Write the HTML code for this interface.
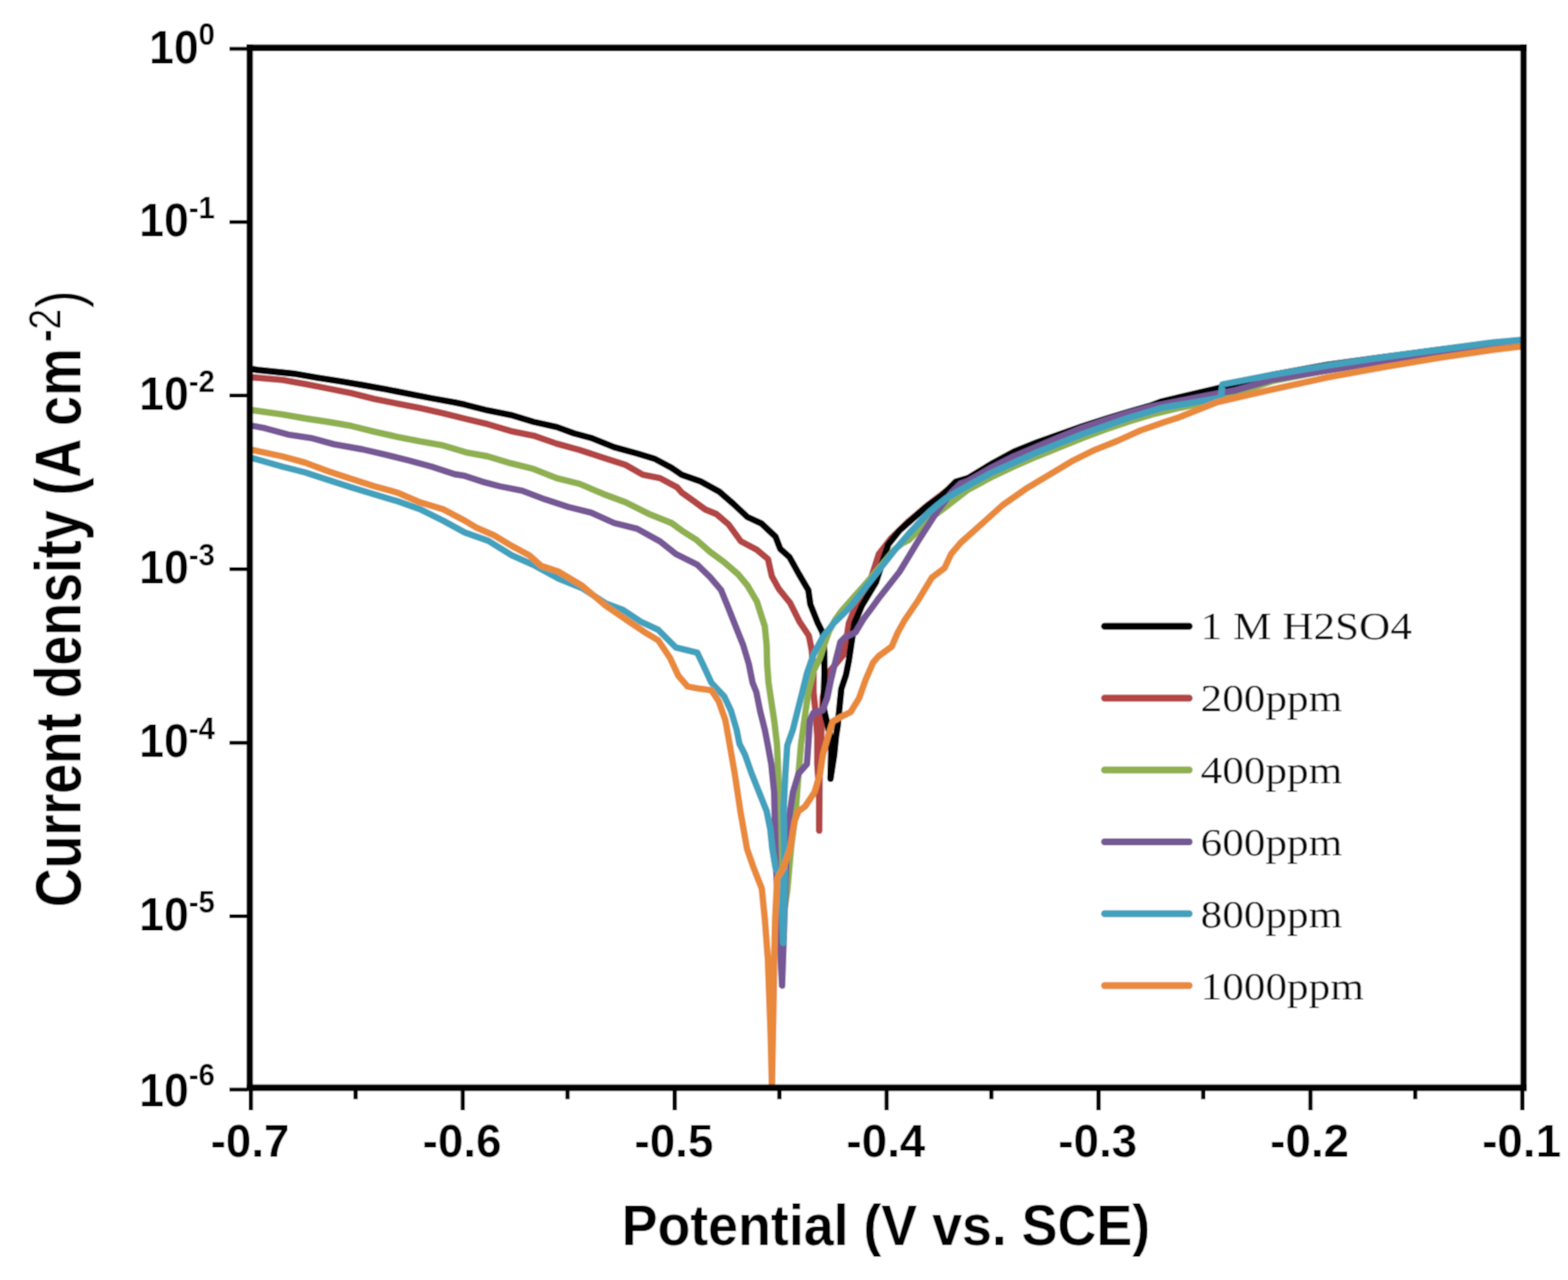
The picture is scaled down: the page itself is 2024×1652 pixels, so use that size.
<!DOCTYPE html><html><head><meta charset="utf-8"><title>Tafel plot</title><style>html,body{margin:0;padding:0;background:#fff;overflow:hidden;}svg{display:block;}.ax{font-family:"Liberation Sans",Arial,sans-serif;font-weight:bold;fill:#000;}.lg{font-family:"Liberation Serif","Times New Roman",serif;fill:#111;}</style></head><body>
<svg width="2024" height="1652" viewBox="0 0 2024 1652">
<defs><filter id="soft" x="0" y="0" width="2024" height="1652" filterUnits="userSpaceOnUse"><feConvolveMatrix order="3" kernelMatrix="1 2 1 2 4 2 1 2 1" divisor="16" edgeMode="duplicate"/></filter></defs>
<g filter="url(#soft)">
<rect x="0" y="0" width="2024" height="1652" fill="#fff"/>
<g fill="none" stroke-width="8.4" stroke-linejoin="round" stroke-linecap="round">
<polyline stroke="#b34544" points="323.0,486.7 364.5,490.4 394.0,495.6 423.7,501.5 453.4,507.4 483.0,514.9 512.7,520.8 542.3,526.7 572.0,533.4 601.6,540.8 629.6,547.4 659.3,556.3 688.9,562.3 718.6,572.6 748.2,580.8 777.9,590.4 807.5,600.0 829.7,612.7 852.0,617.1 874.2,629.0 880.0,635.7 892.1,644.2 910.3,657.5 924.8,663.5 940.5,676.9 956.3,698.6 976.9,709.5 991.4,721.6 996.2,743.4 1005.3,760.0 1019.9,778.2 1032.0,802.4 1044.1,820.5 1047.7,838.7 1050.1,869.0 1050.1,893.2 1052.5,917.4 1055.0,950.0 1055.0,986.0 1057.4,1022.6 1057.4,1072.0 1058.0,1000.0 1060.0,950.0 1062.0,900.0 1068.0,870.0 1088.0,846.0 1092.1,828.4 1095.7,804.2 1105.4,780.0 1120.0,760.0 1134.4,715.0 1150.0,695.0 1173.0,672.6 1200.0,650.0 1230.0,627.0 1249.6,624.0 1279.3,607.5 1308.9,594.0 1338.6,581.0 1368.2,569.0 1397.9,557.0 1427.5,547.0 1457.1,537.0 1486.8,528.0 1520.0,521.0 1571.0,508.0 1642.0,486.0 1713.0,473.0 1784.0,462.0 1855.0,452.0 1926.0,443.0 1966.0,439.0"/>
<polyline stroke="#000000" points="323.0,476.0 333.0,477.5 379.0,482.2 409.0,487.4 438.0,491.9 468.0,497.0 498.0,502.3 527.0,508.2 557.0,514.0 587.0,519.3 600.0,522.2 629.6,529.7 659.3,535.6 688.9,544.5 718.6,551.1 740.8,559.3 763.0,565.2 792.7,577.1 822.3,585.2 844.6,591.9 866.8,603.8 880.0,612.7 904.2,621.2 928.4,634.5 946.6,650.2 964.7,667.2 982.9,675.6 1001.0,692.6 1007.1,708.3 1019.2,719.2 1031.3,741.0 1043.4,761.6 1046.0,780.0 1055.7,804.2 1061.8,816.3 1064.0,840.0 1064.2,870.0 1063.0,913.0 1066.0,926.0 1070.5,945.0 1073.0,970.0 1072.0,1005.0 1076.8,974.2 1079.2,950.0 1081.2,937.4 1083.6,913.2 1086.0,889.0 1092.1,870.8 1095.7,852.6 1099.3,828.4 1103.0,804.2 1112.6,781.6 1130.8,751.3 1146.5,702.9 1161.1,684.7 1195.0,654.5 1215.5,640.0 1233.7,621.8 1249.6,617.0 1279.3,599.0 1308.9,583.0 1338.6,571.0 1368.2,560.5 1397.9,550.0 1427.5,540.5 1457.1,531.5 1486.8,523.0 1500.0,518.0 1571.0,501.4 1642.0,484.0 1713.0,471.0 1784.0,461.1 1855.0,452.0 1926.0,443.0 1966.0,439.0"/>
<polyline stroke="#8fb04f" points="323.0,529.0 364.5,534.9 394.0,540.0 423.7,544.5 453.4,549.7 483.0,557.1 512.7,563.8 542.3,569.7 572.0,574.9 601.6,583.8 629.6,589.0 659.3,597.9 688.9,605.3 718.6,617.1 748.2,624.5 777.9,637.2 807.5,648.3 837.1,663.1 866.8,675.0 880.0,684.7 898.2,696.2 916.3,712.0 934.5,725.3 952.6,741.0 964.7,755.5 976.9,776.1 987.2,808.4 989.6,832.6 990.2,856.9 992.0,881.0 995.6,905.3 999.3,929.5 1002.9,960.0 1004.1,986.3 1006.0,1050.0 1008.0,1120.0 1012.0,1178.0 1016.2,1150.0 1021.0,1095.3 1027.1,1046.9 1030.8,998.4 1034.0,960.0 1040.0,917.0 1044.0,890.0 1050.0,866.0 1058.0,850.0 1064.0,832.0 1070.0,815.0 1078.0,800.0 1086.0,789.0 1100.0,773.0 1118.7,752.0 1140.0,727.0 1155.0,709.0 1165.0,701.0 1173.0,697.0 1200.0,670.0 1220.0,655.0 1249.6,632.0 1279.3,616.0 1308.9,602.0 1338.6,589.0 1368.2,577.0 1397.9,565.0 1427.5,554.0 1457.1,544.0 1486.8,535.0 1520.0,527.0 1571.0,516.0 1642.0,492.0 1713.0,478.0 1784.0,467.0 1855.0,456.0 1926.0,446.0 1966.0,442.0"/>
<polyline stroke="#765996" points="323.0,549.0 342.2,552.7 371.8,560.8 401.5,565.3 431.1,573.4 468.2,580.0 497.9,586.8 527.5,594.2 557.1,602.3 586.8,612.0 600.0,614.2 622.2,621.6 644.5,627.5 674.1,633.4 703.7,644.6 733.4,654.2 763.0,661.6 792.7,675.0 822.3,682.4 852.0,698.7 872.4,715.0 900.0,728.7 916.3,744.6 930.8,761.6 940.0,784.2 949.6,808.4 959.3,832.6 966.6,856.9 971.4,881.0 976.3,893.2 981.1,917.4 987.2,941.6 990.8,960.0 995.6,986.3 999.3,1022.6 1000.5,1071.0 1001.7,1119.5 1005.0,1180.0 1009.5,1272.0 1012.0,1200.0 1016.2,1071.0 1019.9,1046.9 1023.5,1022.6 1030.8,998.4 1041.6,986.3 1044.1,950.0 1045.3,930.0 1049.7,920.4 1061.8,916.8 1067.8,901.1 1072.7,876.9 1078.7,852.6 1084.8,828.4 1090.8,822.4 1104.2,816.3 1115.1,798.2 1127.2,782.0 1134.4,772.0 1161.1,738.0 1185.3,698.0 1209.5,660.5 1227.7,636.3 1240.0,624.2 1249.6,621.0 1279.3,604.0 1308.9,589.0 1338.6,576.5 1368.2,564.0 1397.9,552.0 1427.5,542.0 1457.1,532.5 1486.8,524.5 1520.0,518.0 1571.0,508.0 1594.9,503.8 1642.0,490.0 1737.1,474.0 1800.0,464.0 1900.0,450.0 1966.0,441.0"/>
<polyline stroke="#43a1bd" points="323.0,590.5 364.5,602.3 394.0,609.7 423.7,619.4 453.4,629.0 483.0,637.9 512.7,646.8 542.3,657.2 572.0,672.0 600.0,687.3 630.3,698.0 660.5,716.6 690.8,730.2 721.1,746.9 751.4,759.0 781.6,778.6 804.3,787.2 827.0,802.3 849.7,812.9 872.4,835.6 900.0,842.3 907.3,857.3 918.2,881.0 935.1,899.2 943.6,917.4 950.8,941.6 954.5,960.0 961.7,974.2 970.2,998.4 979.9,1022.6 989.6,1046.9 994.4,1071.0 996.9,1095.3 1001.0,1119.5 1008.0,1135.0 1011.0,1217.0 1013.0,1130.0 1011.4,1046.9 1013.8,998.4 1016.2,962.1 1023.5,941.6 1029.5,917.4 1035.6,893.2 1041.6,869.0 1050.1,844.7 1062.2,822.0 1076.3,804.2 1090.0,791.0 1100.0,780.0 1118.0,757.0 1136.0,734.0 1155.0,710.0 1173.0,689.0 1190.0,671.0 1200.0,660.5 1210.0,652.0 1220.0,644.0 1233.7,636.0 1249.6,626.8 1279.3,610.5 1308.9,597.1 1338.6,583.8 1368.2,571.9 1397.9,560.1 1427.5,549.7 1457.1,539.3 1486.8,530.4 1500.0,526.3 1520.0,523.0 1571.1,514.4 1576.0,512.0 1578.0,496.0 1642.3,483.6 1713.4,471.7 1784.6,461.0 1855.7,451.5 1926.8,442.0 1966.0,438.5"/>
<polyline stroke="#e9893a" points="323.0,580.1 364.5,589.0 394.0,597.1 423.7,608.3 453.4,617.9 483.0,627.5 512.7,635.7 542.3,648.3 572.0,657.2 600.0,672.0 614.8,680.9 637.8,690.9 660.5,704.5 683.2,716.6 698.4,730.2 721.1,737.8 751.4,755.9 781.6,781.6 811.9,802.3 834.6,817.4 849.7,826.5 864.9,849.2 875.5,871.9 887.6,886.0 900.0,888.4 918.2,890.8 927.8,905.3 936.3,929.5 940.0,950.0 948.4,998.4 955.7,1046.9 964.2,1095.3 972.6,1119.5 983.3,1146.6 987.3,1186.5 991.3,1239.8 993.5,1300.0 994.8,1336.2 996.4,1401.6 998.9,1270.8 999.3,1239.8 1000.6,1186.5 1003.3,1133.3 1011.3,1120.0 1019.9,1095.3 1025.9,1059.0 1030.8,1046.9 1039.2,1040.8 1051.3,1022.6 1058.6,998.4 1062.2,974.2 1069.0,949.5 1075.0,931.0 1086.0,925.0 1098.0,919.0 1109.0,901.0 1117.5,877.0 1127.0,855.0 1134.0,847.0 1151.0,834.5 1159.0,816.0 1168.0,800.0 1185.0,775.0 1203.0,745.3 1219.2,733.2 1227.7,715.0 1240.0,700.5 1264.5,678.7 1294.1,652.0 1323.7,631.2 1353.4,613.4 1383.0,595.6 1412.7,580.8 1442.3,569.0 1472.0,555.6 1501.6,545.2 1520.0,539.3 1571.1,519.2 1642.3,502.6 1713.4,487.1 1784.6,474.1 1855.7,462.2 1926.8,451.5 1966.0,446.8"/>
</g>
<g fill="#000">
<rect x="318.35" y="57.45" width="1652.30" height="8.6"/>
<rect x="318.35" y="1399.60" width="1652.30" height="8.6"/>
<rect x="318.35" y="57.45" width="8.1" height="1350.75"/>
<rect x="1962.55" y="57.45" width="8.1" height="1350.75"/>
</g>
<rect x="296.2" y="60.50" width="23.15" height="5" fill="#000"/>
<rect x="296.2" y="284.10" width="23.15" height="5" fill="#000"/>
<rect x="296.2" y="507.90" width="23.15" height="5" fill="#000"/>
<rect x="296.2" y="732.10" width="23.15" height="5" fill="#000"/>
<rect x="296.2" y="956.20" width="23.15" height="5" fill="#000"/>
<rect x="296.2" y="1180.00" width="23.15" height="5" fill="#000"/>
<rect x="296.2" y="1403.70" width="23.15" height="5" fill="#000"/>
<rect x="321.05" y="1403.9" width="5.5" height="29.0" fill="#000"/>
<rect x="594.60" y="1403.9" width="5.5" height="29.0" fill="#000"/>
<rect x="868.15" y="1403.9" width="5.5" height="29.0" fill="#000"/>
<rect x="1141.70" y="1403.9" width="5.5" height="29.0" fill="#000"/>
<rect x="1415.25" y="1403.9" width="5.5" height="29.0" fill="#000"/>
<rect x="1688.80" y="1403.9" width="5.5" height="29.0" fill="#000"/>
<rect x="1962.35" y="1403.9" width="5.5" height="29.0" fill="#000"/>
<rect x="456.25" y="1403.9" width="5.5" height="14.7" fill="#000"/>
<rect x="729.80" y="1403.9" width="5.5" height="14.7" fill="#000"/>
<rect x="1003.35" y="1403.9" width="5.5" height="14.7" fill="#000"/>
<rect x="1276.90" y="1403.9" width="5.5" height="14.7" fill="#000"/>
<rect x="1550.45" y="1403.9" width="5.5" height="14.7" fill="#000"/>
<rect x="1824.00" y="1403.9" width="5.5" height="14.7" fill="#000"/>
<text class="ax" transform="translate(277.5,81.6) scale(0.95,1)" text-anchor="end" font-size="60.5">10<tspan font-size="40" dy="-23.5">0</tspan></text>
<text class="ax" transform="translate(277.5,305.2) scale(0.95,1)" text-anchor="end" font-size="60.5">10<tspan font-size="40" dy="-23.5">-1</tspan></text>
<text class="ax" transform="translate(277.5,529.0) scale(0.95,1)" text-anchor="end" font-size="60.5">10<tspan font-size="40" dy="-23.5">-2</tspan></text>
<text class="ax" transform="translate(277.5,753.2) scale(0.95,1)" text-anchor="end" font-size="60.5">10<tspan font-size="40" dy="-23.5">-3</tspan></text>
<text class="ax" transform="translate(277.5,977.3) scale(0.95,1)" text-anchor="end" font-size="60.5">10<tspan font-size="40" dy="-23.5">-4</tspan></text>
<text class="ax" transform="translate(277.5,1201.1) scale(0.95,1)" text-anchor="end" font-size="60.5">10<tspan font-size="40" dy="-23.5">-5</tspan></text>
<text class="ax" transform="translate(277.5,1427.8) scale(0.95,1)" text-anchor="end" font-size="60.5">10<tspan font-size="40" dy="-26.5">-6</tspan></text>
<text class="ax" transform="translate(322.8,1493.3) scale(0.985,1)" text-anchor="middle" font-size="60">-0.7</text>
<text class="ax" transform="translate(596.4,1493.3) scale(0.985,1)" text-anchor="middle" font-size="60">-0.6</text>
<text class="ax" transform="translate(869.9,1493.3) scale(0.985,1)" text-anchor="middle" font-size="60">-0.5</text>
<text class="ax" transform="translate(1143.5,1493.3) scale(0.985,1)" text-anchor="middle" font-size="60">-0.4</text>
<text class="ax" transform="translate(1417.0,1493.3) scale(0.985,1)" text-anchor="middle" font-size="60">-0.3</text>
<text class="ax" transform="translate(1690.5,1493.3) scale(0.985,1)" text-anchor="middle" font-size="60">-0.2</text>
<text class="ax" transform="translate(1964.1,1493.3) scale(0.985,1)" text-anchor="middle" font-size="60">-0.1</text>
<text class="ax" transform="translate(802.4,1607.2) scale(0.931,1)" font-size="74.5">Potential (V vs. SCE)</text>
<text class="ax" transform="translate(104.3,1170.8) rotate(-90) scale(0.830,1)" font-size="83.5">Current density (A cm<tspan font-size="58" dx="10" dy="-26.8">-</tspan><tspan font-weight="normal" font-size="58">2</tspan><tspan font-weight="normal" font-size="82" dx="1" dy="26.8">)</tspan></text>
<line x1="1425.8" y1="808.2" x2="1535" y2="808.2" stroke="#000000" stroke-width="9" stroke-linecap="round"/>
<text class="lg" transform="translate(1549.8,824.5) scale(1.094,1)" font-size="51">1 M H2SO4</text>
<line x1="1425.8" y1="901.0" x2="1535" y2="901.0" stroke="#b34544" stroke-width="9" stroke-linecap="round"/>
<text class="lg" transform="translate(1549.8,917.6) scale(1.094,1)" font-size="51">200ppm</text>
<line x1="1425.8" y1="993.7" x2="1535" y2="993.7" stroke="#8fb04f" stroke-width="9" stroke-linecap="round"/>
<text class="lg" transform="translate(1549.8,1010.6) scale(1.094,1)" font-size="51">400ppm</text>
<line x1="1425.8" y1="1086.5" x2="1535" y2="1086.5" stroke="#765996" stroke-width="9" stroke-linecap="round"/>
<text class="lg" transform="translate(1549.8,1103.7) scale(1.094,1)" font-size="51">600ppm</text>
<line x1="1425.8" y1="1179.2" x2="1535" y2="1179.2" stroke="#43a1bd" stroke-width="9" stroke-linecap="round"/>
<text class="lg" transform="translate(1549.8,1196.7) scale(1.094,1)" font-size="51">800ppm</text>
<line x1="1425.8" y1="1272.0" x2="1535" y2="1272.0" stroke="#e9893a" stroke-width="9" stroke-linecap="round"/>
<text class="lg" transform="translate(1549.8,1289.8) scale(1.094,1)" font-size="51">1000ppm</text>
</g>
</svg></body></html>
